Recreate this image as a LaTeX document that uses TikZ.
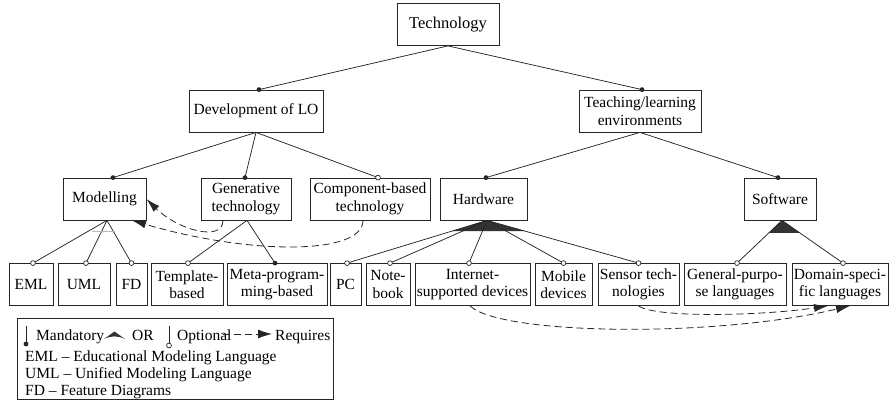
\documentclass[tikz,border=0pt]{standalone}
\usepackage{fontspec}
\setmainfont{Liberation Serif}
\usetikzlibrary{arrows.meta,calc}
\begin{document}
\begin{tikzpicture}[x=1pt,y=-1pt,
  font=\fontsize{15.5}{17.5}\selectfont,
  feat/.style={draw=black!85, line width=0.8pt, inner sep=0pt, align=center, minimum height=42pt},
  link/.style={draw=black!85, line width=0.75pt},
  req/.style={draw=black!85, line width=0.8pt, dash pattern=on 7pt off 4pt, -{Latex[length=14pt,width=8pt]}},
  mdot/.style={fill=black!85},
  odot/.style={draw=black!85, fill=white, line width=0.7pt},
  orfill/.style={fill=black!80}
]
\useasboundingbox (0,0) rectangle (889,401);

% ---- feature boxes ----
\node[feat, minimum width=102pt, font=\fontsize{16.5}{18}\selectfont] (tech)  at (448,24.5) {Technology};
\node[feat, minimum width=134pt] (dev)   at (256,111) {Development of LO};
\node[feat, minimum width=122pt] (teach) at (640,111) {Teaching/learning\\environments};

\node[feat, minimum width=83pt]  (model) at (104.5,199) {Modelling};
\node[feat, minimum width=90pt]  (gen)   at (246,199) {Generative\\technology};
\node[feat, minimum width=120pt] (comp)  at (370,199) {Component-based\\technology};
\node[feat, minimum width=87pt]  (hw)    at (483.5,199) {Hardware};
\node[feat, minimum width=72pt]  (sw)    at (780,199) {Software};

\node[feat, minimum width=44pt]  (eml)  at (31,284.5)    {EML};
\node[feat, minimum width=52pt]  (uml)  at (84,284.5)    {UML};
\node[feat, minimum width=31pt]  (fd)   at (131.5,284.5) {FD};
\node[feat, minimum width=72pt]  (tmpl) at (187,284.5)   {Template-\\based};
\node[feat, minimum width=100pt] (meta) at (277,284.5)   {Meta-program-\\ming-based};
\node[feat, minimum width=31pt]  (pc)   at (345.5,284.5) {PC};
\node[feat, minimum width=44pt]  (nb)   at (388,284.5)   {Note-\\book};
\node[feat, minimum width=115pt] (inet) at (472.5,284.5) {Internet-\\supported devices};
\node[feat, minimum width=57pt]  (mob)  at (563.5,284.5) {Mobile\\devices};
\node[feat, minimum width=81pt]  (sens) at (638.5,284.5) {Sensor tech-\\nologies};
\node[feat, minimum width=102pt] (gp)   at (735,284.5)   {General-purpo-\\se languages};
\node[feat, minimum width=96pt]  (dom)  at (840,284.5)   {Domain-speci-\\fic languages};

% ---- attachment points ----
\coordinate (dev-in)   at ([xshift=3pt]dev.north);
\coordinate (teach-in) at ([xshift=2pt]teach.north);
\coordinate (model-in) at ([xshift=8.5pt]model.north);
\coordinate (gen-in)   at ([xshift=-1pt]gen.north);
\coordinate (comp-in)  at ([xshift=8pt]comp.north);
\coordinate (hw-in)    at ([xshift=2.5pt]hw.north);
\coordinate (sw-in)    at ([xshift=-2pt]sw.north);
\coordinate (eml-in)   at ([xshift=2pt]eml.north);
\coordinate (uml-in)   at ([xshift=2pt]uml.north);
\coordinate (fd-in)    at (fd.north);
\coordinate (tmpl-in)  at ([xshift=1pt]tmpl.north);
\coordinate (meta-in)  at ([xshift=-2pt]meta.north);
\coordinate (pc-in)    at ([xshift=1.5pt]pc.north);
\coordinate (nb-in)    at ([xshift=2pt]nb.north);
\coordinate (inet-in)  at ([xshift=-3.5pt]inet.north);
\coordinate (mob-in)   at (mob.north);
\coordinate (sens-in)  at (sens.north);
\coordinate (gp-in)    at ([xshift=2pt]gp.north);
\coordinate (dom-in)   at ([xshift=3pt]dom.north);

\coordinate (model-out) at ([xshift=2.5pt]model.south);
\coordinate (gen-out)   at ([xshift=1pt]gen.south);
\coordinate (hw-out)    at ([xshift=3.5pt]hw.south);
\coordinate (sw-out)    at ([xshift=2pt]sw.south);

% ---- OR groups ----
\fill[orfill] (hw-out) -- ($(hw-out)!0.25!(pc-in)$) -- ($(hw-out)!0.25!(sens-in)$) -- cycle;
\fill[orfill] (sw-out) -- ($(sw-out)!0.29!(gp-in)$) -- ($(sw-out)!0.29!(dom-in)$) -- cycle;

% ---- tree links ----
\draw[link] (tech.south) -- (dev-in);
\draw[link] (tech.south) -- (teach-in);
\draw[link] (dev.south) -- (model-in);
\draw[link] (dev.south) -- (gen-in);
\draw[link] (dev.south) -- (comp-in);
\draw[link] (teach.south) -- (hw-in);
\draw[link] (teach.south) -- (sw-in);
\foreach \c in {eml,uml,fd} \draw[link] (model-out) -- (\c-in);
\foreach \c in {tmpl,meta} \draw[link] (gen-out) -- (\c-in);
\foreach \c in {pc,nb,inet,mob,sens} \draw[link] (hw-out) -- (\c-in);
\foreach \c in {gp,dom} \draw[link] (sw-out) -- (\c-in);

\draw[gray!55, line width=0.9pt] (92,231) -- (115,231);

% ---- mandatory / optional markers ----
\foreach \c in {dev,teach,model,gen,hw,sw,meta} \fill[mdot] (\c-in) circle (2.4pt);
\foreach \c in {comp,eml,uml,fd,tmpl,pc,nb,inet,mob,sens,gp,dom} \draw[odot] (\c-in) circle (2.4pt);

% ---- requires relations ----
\draw[req] ([xshift=-23pt]gen.south) .. controls +(0,22) and (178,230) .. (model.east);
\draw[req] ([xshift=-7pt]comp.south) .. controls +(0,35) and (250,255) .. ([xshift=27.5pt]model.south);
\draw[req] ([xshift=-2.5pt]inet.south) .. controls (500,335) and (715,338) .. ([xshift=10pt]dom.south);
\draw[req] (sens.south) .. controls (655,318) and (760,316) .. ([xshift=-12pt]dom.south);

% ---- legend ----
\node[draw=black!85, line width=0.8pt, minimum width=316pt, minimum height=81pt, inner sep=0pt, anchor=north west] (legend) at (17,318) {};
\draw[link] (26,326) -- (26,343);
\fill[mdot] (26,344) circle (2.4pt);
\node[anchor=base west, inner sep=0pt] (lmand) at (36,340) {Mandatory};
\fill[orfill] (104,339) -- (114.5,331.5) -- (125,339) .. controls (118,335.5) and (111,335.5) .. cycle;
\node[anchor=base west, inner sep=0pt] (lor) at (132,340) {OR};
\draw[link] (169,326) -- (169,343);
\draw[odot] (169,345.5) circle (2.4pt);
\node[anchor=base west, inner sep=0pt] (lopt) at (177,340) {Optional};
\draw[req, -{Latex[length=14pt,width=9pt]}] (223,334) -- (272,334);
\node[anchor=base west, inner sep=0pt] (lreq) at (275,340) {Requires};
\node[anchor=base west, inner sep=0pt] (leml) at (25,361) {EML -- Educational Modeling Language};
\node[anchor=base west, inner sep=0pt] (luml) at (25,378) {UML -- Unified Modeling Language};
\node[anchor=base west, inner sep=0pt] (lfd)  at (25,395) {FD -- Feature Diagrams};
\end{tikzpicture}
\end{document}
